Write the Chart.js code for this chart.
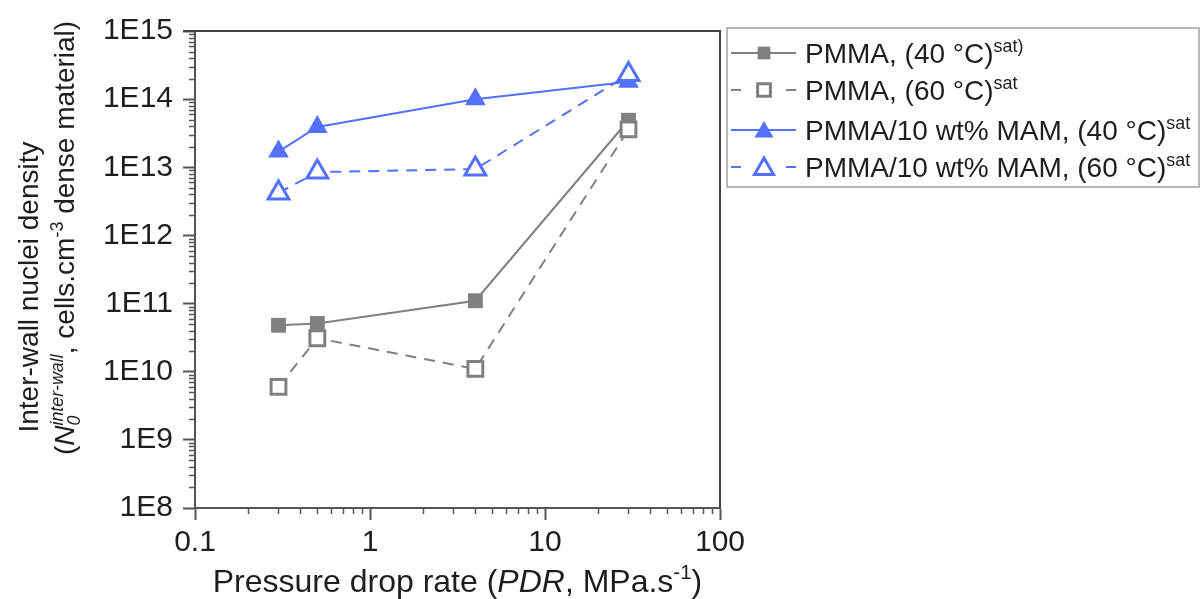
<!DOCTYPE html>
<html>
<head>
<meta charset="utf-8">
<script src="https://cdn.jsdelivr.net/npm/chart.js@4"></script>
<style>
  html, body { margin: 0; padding: 0; background: #fff; }
</style>
</head>
<body>
<canvas id="chart" width="1202" height="599"></canvas>
<script>
// pressure drop rate (MPa/s)
const pdr = [0.3, 0.5, 4, 30];

// inter-wall nuclei density, cells/cm3
const pmma40 = [4.8e10, 5.1e10, 1.1e11, 4.9e13];
const pmma60 = [6.0e9, 3.1e10, 1.1e10, 3.6e13];
const mam40 = [1.7e13, 3.9e13, 1.0e14, 1.8e14];
const mam60 = [4.2e12, 8.5e12, 9.4e12, 2.3e14];

const xTicks = [0.1, 1, 10, 100];
const xTickLabels = ['0.1', '1', '10', '100'];
const yTicks = [1e8, 1e9, 1e10, 1e11, 1e12, 1e13, 1e14, 1e15];
const yTickLabels = ['1E8', '1E9', '1E10', '1E11', '1E12', '1E13', '1E14', '1E15'];

const legendLabels = [
    [{ t: 'PMMA, (40 °C)' }, { t: 'sat', s: 'sup' }, { t: ')', s: 'sup' }],
    [{ t: 'PMMA, (60 °C)' }, { t: 'sat', s: 'sup' }],
    [{ t: 'PMMA/10 wt% MAM, (40 °C)' }, { t: 'sat', s: 'sup' }],
    [{ t: 'PMMA/10 wt% MAM, (60 °C)' }, { t: 'sat', s: 'sup' }]
];
const xTitle = [{ t: 'Pressure drop rate (' }, { t: 'PDR', i: true }, { t: ', MPa.s' }, { t: '-1', s: 'sup' }, { t: ')' }];
const yTitle1 = [{ t: 'Inter-wall nuclei density' }];
const yTitle2 = [{ t: '(' }, { t: 'N', i: true }, { t: '0', i: true, s: 'sub', keep: true },
    { t: 'inter-wall', i: true, s: 'sup' }, { t: ', cells.cm' }, { t: '-3', s: 'sup' }, { t: ' dense material)' }];

const GRAY = '#808080';
const BLUE = '#5470ff';
const TEXT = '#1e1e1e';
const FONT = '"Liberation Sans", Arial, sans-serif';
const FS = 28;      // legend + y title
const TICK_FS = 30;
const XT_FS = 32;
const DASH = [11, 8];

const pts = (ys) => pdr.map((x, i) => ({ x, y: ys[i] }));

// styles that the legend reuses
const seriesStyle = [
    { color: GRAY, dash: [], marker: 'rect', fill: GRAY },
    { color: GRAY, dash: DASH, marker: 'rect', fill: '#fff' },
    { color: BLUE, dash: [], marker: 'triangle', fill: BLUE },
    { color: BLUE, dash: DASH, marker: 'triangle', fill: '#fff' }
];

function fontOf(size, italic) {
    return (italic ? 'italic ' : '') + size + 'px ' + FONT;
}

// rich text: sup / sub / italic parts
function layoutRich(ctx, parts, size) {
    let x = 0, pending = 0;
    const out = [];
    for (const p of parts) {
        const sz = p.s ? size * 0.64 : size;
        ctx.font = fontOf(sz, p.i);
        const w = ctx.measureText(p.t).width;
        const dy = p.s === 'sup' ? -size * 0.4 : p.s === 'sub' ? size * 0.2 : 0;
        out.push({ t: p.t, x, dy, sz, i: p.i });
        if (p.keep) { pending = w; continue; }
        x += Math.max(w, pending);
        pending = 0;
    }
    return { items: out, width: x };
}

function drawRich(ctx, parts, x, y, size, align) {
    const lay = layoutRich(ctx, parts, size);
    const x0 = align === 'center' ? x - lay.width / 2 : x;
    ctx.fillStyle = TEXT;
    ctx.textBaseline = 'alphabetic';
    ctx.textAlign = 'left';
    for (const it of lay.items) {
        ctx.font = fontOf(it.sz, it.i);
        ctx.fillText(it.t, x0 + it.x, y + it.dy);
    }
}

function drawMarker(ctx, type, x, y, r, fill, stroke, lw) {
    ctx.beginPath();
    if (type === 'rect') {
        const h = r * Math.SQRT1_2;
        ctx.rect(x - h, y - h, 2 * h, 2 * h);
    } else {
        ctx.moveTo(x, y - r);
        ctx.lineTo(x + r * 0.866, y + r / 2);
        ctx.lineTo(x - r * 0.866, y + r / 2);
        ctx.closePath();
    }
    ctx.fillStyle = fill;
    ctx.fill();
    if (lw) {
        ctx.lineWidth = lw;
        ctx.strokeStyle = stroke;
        ctx.stroke();
    }
}

const decor = {
    id: 'decor',
    afterDraw(chart) {
        const ctx = chart.ctx;
        const area = chart.chartArea;
        const xs = chart.scales.x, ys = chart.scales.y;
        ctx.save();

        // minor ticks
        ctx.strokeStyle = '#555';
        ctx.lineWidth = 1.5;
        ctx.beginPath();
        for (let d = 0.1; d < 100; d *= 10) {
            for (let k = 2; k < 10; k++) {
                const px = Math.round(xs.getPixelForValue(k * d)) + 0.5;
                ctx.moveTo(px, area.bottom);
                ctx.lineTo(px, area.bottom + 6);
            }
        }
        for (let e = 8; e < 15; e++) {
            for (let k = 2; k < 10; k++) {
                const py = Math.round(ys.getPixelForValue(k * Math.pow(10, e))) + 0.5;
                ctx.moveTo(area.left - 6, py);
                ctx.lineTo(area.left, py);
            }
        }
        ctx.stroke();

        // frame top & right
        ctx.strokeStyle = '#444';
        ctx.lineWidth = 2;
        ctx.beginPath();
        ctx.moveTo(area.left - 12, area.top);
        ctx.lineTo(area.right, area.top);
        ctx.lineTo(area.right, area.bottom);
        ctx.stroke();

        // axis titles
        drawRich(ctx, xTitle, (area.left + area.right) / 2, 592, XT_FS, 'center');
        ctx.save();
        ctx.translate(38, 287);
        ctx.rotate(-Math.PI / 2);
        drawRich(ctx, yTitle1, 0, 0, FS, 'center');
        ctx.restore();
        ctx.save();
        ctx.translate(74, 238);
        ctx.rotate(-Math.PI / 2);
        drawRich(ctx, yTitle2, 0, 0, FS, 'center');
        ctx.restore();

        // legend box
        const lx = 727, ly = 28, lw = 472, lh = 159;
        ctx.fillStyle = '#fff';
        ctx.fillRect(lx, ly, lw, lh);
        ctx.strokeStyle = '#a0a0a0';
        ctx.lineWidth = 1.5;
        ctx.strokeRect(lx, ly, lw, lh);
        const rowBase = [63, 100, 140, 177];
        legendLabels.forEach((parts, i) => {
            const st = seriesStyle[i];
            const cy = rowBase[i] - 10;
            ctx.strokeStyle = st.color;
            ctx.lineWidth = 2;
            ctx.setLineDash([]);
            ctx.beginPath();
            if (st.dash.length) {
                ctx.moveTo(731, cy); ctx.lineTo(741, cy);
                ctx.moveTo(786, cy); ctx.lineTo(796, cy);
            } else {
                ctx.moveTo(731, cy); ctx.lineTo(796, cy);
            }
            ctx.stroke();
            const hollow = st.fill === '#fff';
            drawMarker(ctx, st.marker, 764, st.marker === 'rect' ? cy : cy + 2,
                st.marker === 'rect' ? 9 : 11, st.fill, st.color, hollow ? 3 : 0);
            drawRich(ctx, parts, 805, rowBase[i], FS, 'left');
        });
        ctx.restore();
    }
};

function lineSet(label, ys, st, order) {
    const hollow = st.fill === '#fff';
    return {
        label,
        data: pts(ys),
        order,
        borderColor: st.color,
        borderWidth: 2,
        borderDash: st.dash,
        backgroundColor: st.fill,
        pointStyle: st.marker,
        pointRadius: st.marker === 'rect' ? 10.5 : 12,
        pointBackgroundColor: st.fill,
        pointBorderColor: st.color,
        pointBorderWidth: hollow ? 3 : 0,
        tension: 0
    };
}

new Chart(document.getElementById('chart'), {
    type: 'line',
    data: {
        datasets: [
            lineSet('PMMA, (40 °C)sat', pmma40, seriesStyle[0], 2),
            lineSet('PMMA, (60 °C)sat', pmma60, seriesStyle[1], 1),
            lineSet('PMMA/10 wt% MAM, (40 °C)sat', mam40, seriesStyle[2], 2),
            lineSet('PMMA/10 wt% MAM, (60 °C)sat', mam60, seriesStyle[3], 1)
        ]
    },
    options: {
        responsive: false,
        animation: false,
        devicePixelRatio: 1,
        layout: { padding: { top: 31, right: 482, left: 0, bottom: 0 } },
        plugins: { legend: { display: false }, tooltip: { enabled: false } },
        scales: {
            x: {
                type: 'logarithmic',
                position: 'bottom',
                min: 0.1,
                max: 100,
                afterBuildTicks: (axis) => { axis.ticks = xTicks.map(v => ({ value: v })); },
                afterFit: (axis) => { axis.height = 91; },
                ticks: {
                    autoSkip: false,
                    maxRotation: 0,
                    padding: 5,
                    color: TEXT,
                    font: { family: FONT, size: TICK_FS },
                    callback: (v, i) => xTickLabels[i]
                },
                grid: { drawOnChartArea: false, drawTicks: true, tickLength: 12, tickColor: '#555', tickWidth: 2 },
                border: { color: '#555', width: 2 }
            },
            y: {
                type: 'logarithmic',
                min: 1e8,
                max: 1e15,
                afterBuildTicks: (axis) => { axis.ticks = yTicks.map(v => ({ value: v })); },
                afterFit: (axis) => { axis.width = 195; },
                ticks: {
                    autoSkip: false,
                    padding: 10,
                    color: TEXT,
                    font: { family: FONT, size: TICK_FS },
                    callback: (v, i) => yTickLabels[i]
                },
                grid: { drawOnChartArea: false, drawTicks: true, tickLength: 12, tickColor: '#555', tickWidth: 2 },
                border: { color: '#555', width: 2 }
            }
        }
    },
    plugins: [decor]
});
</script>
</body>
</html>
